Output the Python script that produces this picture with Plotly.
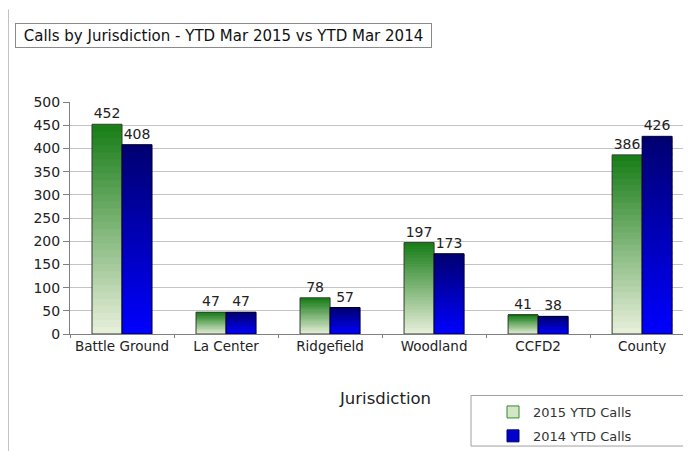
import plotly.graph_objects as go

categories = ["Battle Ground", "La Center", "Ridgefield", "Woodland", "CCFD2", "County"]
calls_2015 = [452, 47, 78, 197, 41, 386]
calls_2014 = [408, 47, 57, 173, 38, 426]
series_names = ["2015 YTD Calls", "2014 YTD Calls"]
y_ticks = [0, 50, 100, 150, 200, 250, 300, 350, 400, 450, 500]

# page body has an 8px margin; design in screen pixels and shift
OFF = 8
SW, SH = 691, 451
SL, SR, ST, SB = 70, 691, 102, 336          # plot area in screen px
W, H = SW - OFF, SH - OFF
L, R, T, B = SL - OFF, SR - OFF, ST - OFF, SB - OFF
FONT = "DejaVu Sans"


def px(x):  # screen x -> paper
    return (x - SL) / (SR - SL)


def py(y):  # screen y -> paper
    return (SB - y) / (SB - ST)


def lerp(c0, c1, t):
    return "rgb(%d,%d,%d)" % tuple(round(a + (b - a) * t) for a, b in zip(c0, c1))


styles = [
    dict(bottom=(234, 240, 220), top=(22, 124, 22), line="#2f3f2f", legend="#d5e6c6", legline="#2e8b2e"),
    dict(bottom=(0, 0, 255), top=(0, 0, 112), line="#00002a", legend="#0000cc", legline="#000066"),
]

fig = go.Figure()
K = 30
for s, vals in enumerate([calls_2015, calls_2014]):
    st = styles[s]
    grp = "g%d" % s
    for i in range(K):
        t = (i + 0.5) / K
        top_frac = min(i + 1.6, K)
        fig.add_trace(go.Bar(
            x=categories,
            y=[v * (top_frac - i) / K for v in vals],
            base=[v * i / K for v in vals],
            offsetgroup=grp,
            marker=dict(color=lerp(st["bottom"], st["top"], t), line=dict(width=0)),
            showlegend=False, hoverinfo="skip",
        ))
    # outline + labels
    fig.add_trace(go.Bar(
        x=categories, y=vals, offsetgroup=grp,
        marker=dict(color="rgba(0,0,0,0)", line=dict(color=st["line"], width=1)),
        text=[str(v) for v in vals], textposition="outside",
        textfont=dict(family=FONT, size=14, color="#222222"),
        cliponaxis=False, showlegend=False, hoverinfo="skip",
    ))
    # legend entry
    fig.add_trace(go.Bar(
        x=[None], y=[None], offsetgroup=grp, name=series_names[s], legendgroup=grp,
        marker=dict(color=st["legend"], line=dict(color=st["legline"], width=1)),
        hoverinfo="skip",
    ))

shapes = [
    # outer frame (left edge)
    dict(type="line", xref="paper", yref="paper", x0=px(8), x1=px(8), y0=py(8.5), y1=py(470),
         line=dict(color="#888888", width=1)),
    # legend box
    dict(type="rect", xref="paper", yref="paper", x0=px(471), x1=px(705), y0=py(449), y1=py(398),
         line=dict(color="#a0a0a0", width=1)),
]

fig.update_layout(
    width=W, height=H,
    margin=dict(l=L, r=W - R, t=T, b=H - B, pad=0),
    paper_bgcolor="white", plot_bgcolor="white",
    barmode="group", bargap=0.423, bargroupgap=0,
    font=dict(family=FONT, size=14, color="#222222"),
    showlegend=True,
    legend=dict(x=px(493), y=py(400), xanchor="left", yanchor="top",
                font=dict(family=FONT, size=13, color="#333333"),
                bgcolor="rgba(0,0,0,0)", borderwidth=0, tracegroupgap=4,
                itemwidth=30),
    shapes=shapes,
    annotations=[
        dict(text="Calls by Jurisdiction - YTD Mar 2015 vs YTD Mar 2014", xref="paper", yref="paper",
             x=px(223.5), y=py(35), xanchor="center", yanchor="middle", showarrow=False,
             font=dict(family=FONT, size=15, color="#111111"),
             bordercolor="#8a8a8a", borderwidth=1, borderpad=2, width=411, height=19,
             bgcolor="white"),
        dict(text="Jurisdiction", xref="paper", yref="paper", x=px(385), y=py(401),
             xanchor="center", yanchor="middle", showarrow=False,
             font=dict(family=FONT, size=16.5, color="#222222")),
    ],
    xaxis=dict(
        range=[-0.5, 5.47], showgrid=False, showline=True, linecolor="#808080", linewidth=1,
        ticks="outside", tickson="boundaries", ticklen=3, tickcolor="#808080",
        tickfont=dict(family=FONT, size=13.5, color="#222222"), fixedrange=True,
    ),
    yaxis=dict(
        range=[0, 500], tickvals=y_ticks, showgrid=True, gridcolor="#c4c4c4", gridwidth=1,
        showline=True, linecolor="#808080", linewidth=1, ticks="outside", ticklen=6,
        tickcolor="#808080", zeroline=False,
        tickfont=dict(family=FONT, size=14, color="#222222"), fixedrange=True,
    ),
)

fig.write_html("out.html")
